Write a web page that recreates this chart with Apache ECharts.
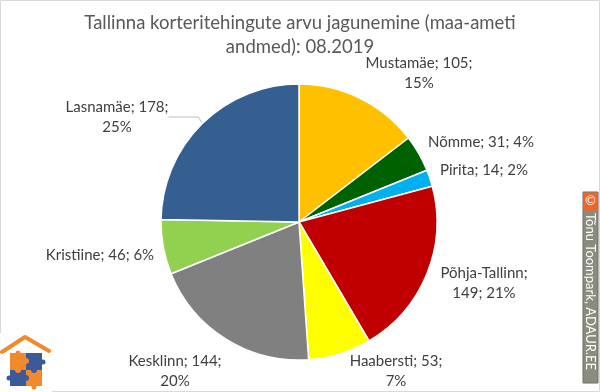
<!DOCTYPE html>
<html>
<head>
<meta charset="utf-8">
<script src="https://cdn.jsdelivr.net/npm/echarts@6/dist/echarts.min.js"></script>
<style>
html,body{margin:0;padding:0;background:#fff;}
#c{width:600px;height:392px;}
</style>
</head>
<body>
<div id="c"></div>
<script>
// ---- data ----
const titleText = 'Tallinna korteritehingute arvu jagunemine (maa-ameti\nandmed): 08.2019';
const districts = ['Mustamäe', 'Nõmme', 'Pirita', 'Põhja-Tallinn', 'Haabersti', 'Kesklinn', 'Kristiine', 'Lasnamäe'];
const deals = [105, 31, 14, 149, 53, 144, 46, 178];
const watermark = 'Tõnu Toompark, ADAUR.EE';

// ---- style / layout ----
const colors = ['#FFC000', '#006100', '#00B0F0', '#C00000', '#FFFF00', '#808080', '#92D050', '#355F91'];
// line break mode: 'value' = break after value, 'name' = break after name, 'none' = one line
const breakMode = ['value', 'none', 'none', 'name', 'value', 'value', 'none', 'value'];
const labelPos = [[419, 73], [481, 142], [484, 170], [484, 283], [396, 371], [175, 371], [100, 255], [117, 117]];
const FONT = 'Lato, "Noto Sans", sans-serif';

const chart = echarts.init(document.getElementById('c'), null, {renderer: 'canvas'});

const seriesData = districts.map((n, i) => {
  const d = {name: n, value: deals[i], itemStyle: {color: colors[i]}};
  if (n === 'Lasnamäe') d.labelLine = {show: true};
  return d;
});

chart.setOption({
  backgroundColor: '#fff',
  animation: false,
  title: {
    text: titleText,
    left: 'center',
    top: 6,
    textStyle: {fontFamily: FONT, fontSize: 18.5, fontWeight: 'normal', color: '#595959', lineHeight: 24}
  },
  series: [{
    type: 'pie',
    center: [299, 222],
    radius: 138,
    startAngle: 90,
    clockwise: true,
    avoidLabelOverlap: false,
    percentPrecision: 0,
    itemStyle: {borderColor: '#fff', borderWidth: 1.5},
    label: {
      show: true,
      position: 'outside',
      fontFamily: FONT,
      fontSize: 15,
      color: '#404040',
      lineHeight: 20,
      formatter: p => {
        const m = breakMode[p.dataIndex];
        const pct = Math.round(p.percent) + '%';
        if (m === 'name') return p.name + ';\n' + p.value + '; ' + pct;
        if (m === 'value') return p.name + '; ' + p.value + ';\n' + pct;
        return p.name + '; ' + p.value + '; ' + pct;
      }
    },
    labelLine: {show: false, lineStyle: {color: '#BFBFBF', width: 1}},
    labelLayout: params => {
      const p = labelPos[params.dataIndex];
      return {x: p[0], y: p[1], align: 'center', verticalAlign: 'middle'};
    },
    emphasis: {disabled: true},
    data: seriesData
  }],
  graphic: [
    // chart border
    {type: 'rect', shape: {x: 0.5, y: 0.5, width: 599, height: 391}, style: {fill: 'none', stroke: '#D9D9D9', lineWidth: 1}, silent: true},
    // watermark box
    {type: 'rect', shape: {x: 583, y: 192, width: 15, height: 191}, style: {fill: '#8C8C7E', stroke: '#6E6E64', lineWidth: 1}, silent: true},
    {type: 'rect', shape: {x: 583.5, y: 192.5, width: 14, height: 18}, style: {fill: '#F26522'}, silent: true},
    {type: 'text', x: 590.5, y: 201, style: {text: '©', fill: '#fff', font: '13px ' + FONT, textAlign: 'center', textVerticalAlign: 'middle'}, silent: true},
    {type: 'text', x: 590.5, y: 213, rotation: -Math.PI / 2, style: {text: watermark, fill: '#fff', font: '13px ' + FONT, textAlign: 'left', textVerticalAlign: 'middle'}, silent: true},
    // logo
    {type: 'rect', shape: {x: 0, y: 333, width: 52, height: 59}, style: {fill: '#fff'}, silent: true},
    {type: 'polyline', shape: {points: [[2, 352], [25, 337], [49, 351]]}, style: {stroke: '#F08A2C', lineWidth: 4, fill: 'none', lineCap: 'round', lineJoin: 'round'}, silent: true},
    {type: 'rect', shape: {x: 10, y: 353, width: 16, height: 17}, style: {fill: '#F08A2C'}, silent: true},
    {type: 'rect', shape: {x: 26, y: 353, width: 16, height: 17}, style: {fill: '#3C5A9A'}, silent: true},
    {type: 'rect', shape: {x: 10, y: 370, width: 16, height: 16}, style: {fill: '#3C5A9A'}, silent: true},
    {type: 'rect', shape: {x: 26, y: 370, width: 16, height: 16}, style: {fill: '#F08A2C'}, silent: true},
    {type: 'circle', shape: {cx: 26, cy: 361, r: 3}, style: {fill: '#F08A2C'}, silent: true},
    {type: 'circle', shape: {cx: 34, cy: 370, r: 3}, style: {fill: '#3C5A9A'}, silent: true},
    {type: 'circle', shape: {cx: 18, cy: 370, r: 3}, style: {fill: '#F08A2C'}, silent: true},
    {type: 'circle', shape: {cx: 26, cy: 378, r: 3}, style: {fill: '#3C5A9A'}, silent: true},
    {type: 'circle', shape: {cx: 18, cy: 353, r: 2.5}, style: {fill: '#F08A2C'}, silent: true},
    {type: 'circle', shape: {cx: 43, cy: 362, r: 2.5}, style: {fill: '#3C5A9A'}, silent: true},
    {type: 'circle', shape: {cx: 9, cy: 378, r: 2.5}, style: {fill: '#3C5A9A'}, silent: true},
    {type: 'circle', shape: {cx: 34, cy: 387, r: 2.5}, style: {fill: '#F08A2C'}, silent: true}
  ]
});
</script>
</body>
</html>
